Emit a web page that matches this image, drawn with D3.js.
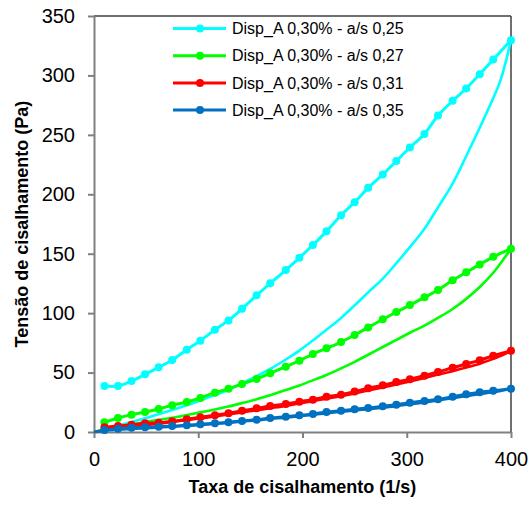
<!DOCTYPE html>
<html>
<head>
<meta charset="utf-8">
<script src="https://cdn.jsdelivr.net/npm/d3@7"></script>
<style>
  html, body { margin: 0; padding: 0; background: #fff; }
  svg { display: block; }
  text { font-family: "Liberation Sans", Arial, sans-serif; }
</style>
</head>
<body>
<svg id="chart" width="531" height="506"></svg>
<script>
// ---- data ----
const seriesNames = [
  "Disp_A 0,30% - a/s 0,25",
  "Disp_A 0,30% - a/s 0,27",
  "Disp_A 0,30% - a/s 0,31",
  "Disp_A 0,30% - a/s 0,35"
];
const seriesColors = ["#00FFFF", "#00FF00", "#FF0000", "#0070C0"];

// shear rate, ascending branch (with markers)
const rateUp = [10, 23, 36, 49, 62, 75, 89, 102, 116, 129, 142, 156, 169, 184, 197,
                210, 223, 237, 250, 263, 277, 290, 303, 317, 330, 344, 357, 370, 383, 400];
// shear rate, descending branch (no markers)
const rateDown = [400, 390, 383, 370, 357, 344, 330, 317, 303, 290, 277, 263, 250, 237, 223, 210,
                  197, 184, 169, 156, 142, 129, 116, 102, 89, 75, 62, 49, 36, 23, 10, 0];

const up025 = [38.7, 38.7, 42.9, 48.5, 54.4, 60.6, 69.2, 76.8, 86.0, 93.9, 103.7, 115.0, 125.1, 136.2, 146.6,
               157.3, 168.8, 182.3, 193.4, 205.4, 216.7, 227.9, 239.4, 250.8, 266.3, 278.6, 289.0, 301.0, 313.4, 329.7];
const down025 = [329.7, 296, 281, 256, 232, 209, 189, 171, 155.5, 142, 129, 117.5, 106.5, 96, 86, 77,
                 68.5, 61, 53, 47, 41, 35.5, 31, 26.5, 22.5, 18.5, 15, 11.5, 8.5, 5.5, 2.5, 0];

const up027 = [8.2, 11.8, 14.6, 16.8, 19.3, 22.5, 25.2, 28.6, 33.1, 36.3, 40.4, 44.6, 49.4, 55.0, 60.0,
               65.6, 70.4, 75.7, 81.6, 88.0, 94.8, 100.9, 106.8, 113.3, 119.4, 127.6, 134.3, 141.0, 147.4, 154.2];
const down027 = [154.2, 142, 134, 122, 112, 103.5, 96, 89.5, 83.5, 77.5, 71.5, 65, 59, 53.5, 48, 43.5,
                 39.2, 35.3, 31, 27.5, 24.3, 21.5, 19, 16.5, 14.3, 12, 10.2, 8.3, 6.3, 4.2, 2, 0];

const up031 = [4.0, 5.0, 6.1, 7.3, 7.8, 9.0, 10.7, 12.4, 14.0, 15.7, 17.9, 19.9, 21.9, 23.5, 25.5,
               27.2, 29.7, 31.4, 34.0, 36.8, 39.3, 42.1, 44.3, 47.4, 50.5, 54.1, 57.2, 60.3, 64.2, 68.4];
const down031 = [68.4, 64, 61.5, 57.5, 54.2, 51.2, 48.3, 45.4, 42.5, 40, 37.5, 35, 32.5, 30.2, 28, 26,
                 24, 22, 20, 18.3, 16.5, 14.8, 13, 11.5, 10, 8.5, 7, 5.7, 4.3, 3, 1.5, 0];

const up035 = [1.7, 2.8, 3.6, 3.9, 4.5, 5.0, 5.6, 6.5, 7.3, 8.2, 9.3, 10.3, 11.8, 12.9, 14.0,
               15.1, 16.8, 17.9, 19.1, 20.2, 21.6, 23.0, 24.6, 26.1, 27.5, 29.7, 31.7, 33.4, 34.7, 36.4];
const down035 = [36.4, 34.6, 33.6, 31.9, 30.2, 28.4, 26.6, 24.9, 23.3, 21.8, 20.5, 19.2, 18.1, 17, 15.7, 14.5,
                 13.3, 12.1, 11.0, 9.8, 8.8, 7.8, 6.9, 6.0, 5.2, 4.5, 3.8, 3.2, 2.6, 1.9, 1.0, 0];

const upSeries = [up025, up027, up031, up035];
const downSeries = [down025, down027, down031, down035];

const xTicks = [0, 100, 200, 300, 400];
const yTicks = [0, 50, 100, 150, 200, 250, 300, 350];
const xTitle = "Taxa de cisalhamento (1/s)";
const yTitle = "Tensão de cisalhamento (Pa)";

// ---- layout ----
const svg = d3.select("#chart");
const mLeft = 94, mRight = 511, mTop = 16, mBottom = 432;

const x = d3.scaleLinear().domain([0, 400]).range([mLeft, mRight]);
const y = d3.scaleLinear().domain([0, 350]).range([mBottom, mTop]);

// frame: top & right borders
svg.append("line").attr("x1", mLeft).attr("x2", mRight).attr("y1", mTop).attr("y2", mTop)
  .attr("stroke", "#404040").attr("stroke-width", 1.5);
svg.append("line").attr("x1", mRight).attr("x2", mRight).attr("y1", mTop).attr("y2", mBottom)
  .attr("stroke", "#404040").attr("stroke-width", 1.5);

// axes
const gx = svg.append("g").attr("transform", `translate(0,${mBottom})`)
  .call(d3.axisBottom(x).tickValues(xTicks).tickSize(6).tickPadding(14).tickSizeOuter(0));
const gy = svg.append("g").attr("transform", `translate(${mLeft},0)`)
  .call(d3.axisLeft(y).tickValues(yTicks).tickSize(6).tickPadding(13).tickSizeOuter(0));
[gx, gy].forEach(g => {
  g.select(".domain").attr("stroke", "#808080").attr("stroke-width", 2);
  g.selectAll(".tick line").attr("stroke", "#808080").attr("stroke-width", 2);
  g.selectAll(".tick text").attr("fill", "#000").style("font-size", "20px")
    .style("font-family", '"Liberation Sans", Arial, sans-serif');
});

// titles
svg.append("text").attr("x", (mLeft + mRight) / 2).attr("y", 493)
  .attr("text-anchor", "middle").style("font-size", "18px").style("font-weight", "bold")
  .text(xTitle);
svg.append("text").attr("transform", `translate(28,${(mTop + mBottom) / 2}) rotate(-90)`)
  .attr("text-anchor", "middle").style("font-size", "18px").style("font-weight", "bold")
  .text(yTitle);

// curves
const line = d3.line().x(d => x(d[0])).y(d => y(d[1])).curve(d3.curveCatmullRom.alpha(0.5));
const plot = svg.append("g");
seriesNames.forEach((name, i) => {
  const c = seriesColors[i];
  const upPts = rateUp.map((r, k) => [r, upSeries[i][k]]);
  const downPts = rateDown.map((r, k) => [r, downSeries[i][k]]);
  const g = plot.append("g");
  g.append("path").attr("d", line(downPts)).attr("fill", "none")
    .attr("stroke", c).attr("stroke-width", 2.6).attr("stroke-linejoin", "round");
  g.append("path").attr("d", line(upPts)).attr("fill", "none")
    .attr("stroke", c).attr("stroke-width", 3).attr("stroke-linejoin", "round");
  g.selectAll("circle").data(upPts).join("circle")
    .attr("cx", d => x(d[0])).attr("cy", d => y(d[1])).attr("r", 4).attr("fill", c);
});

// legend
const leg = svg.append("g");
seriesNames.forEach((name, i) => {
  const ly = 28.5 + i * 27.2;
  leg.append("line").attr("x1", 173).attr("x2", 226).attr("y1", ly).attr("y2", ly)
    .attr("stroke", seriesColors[i]).attr("stroke-width", 3);
  leg.append("circle").attr("cx", 200).attr("cy", ly).attr("r", 4).attr("fill", seriesColors[i]);
  leg.append("text").attr("x", 232).attr("y", ly).attr("dy", "0.35em")
    .style("font-size", "16px").attr("fill", "#000").text(name);
});
</script>
</body>
</html>
